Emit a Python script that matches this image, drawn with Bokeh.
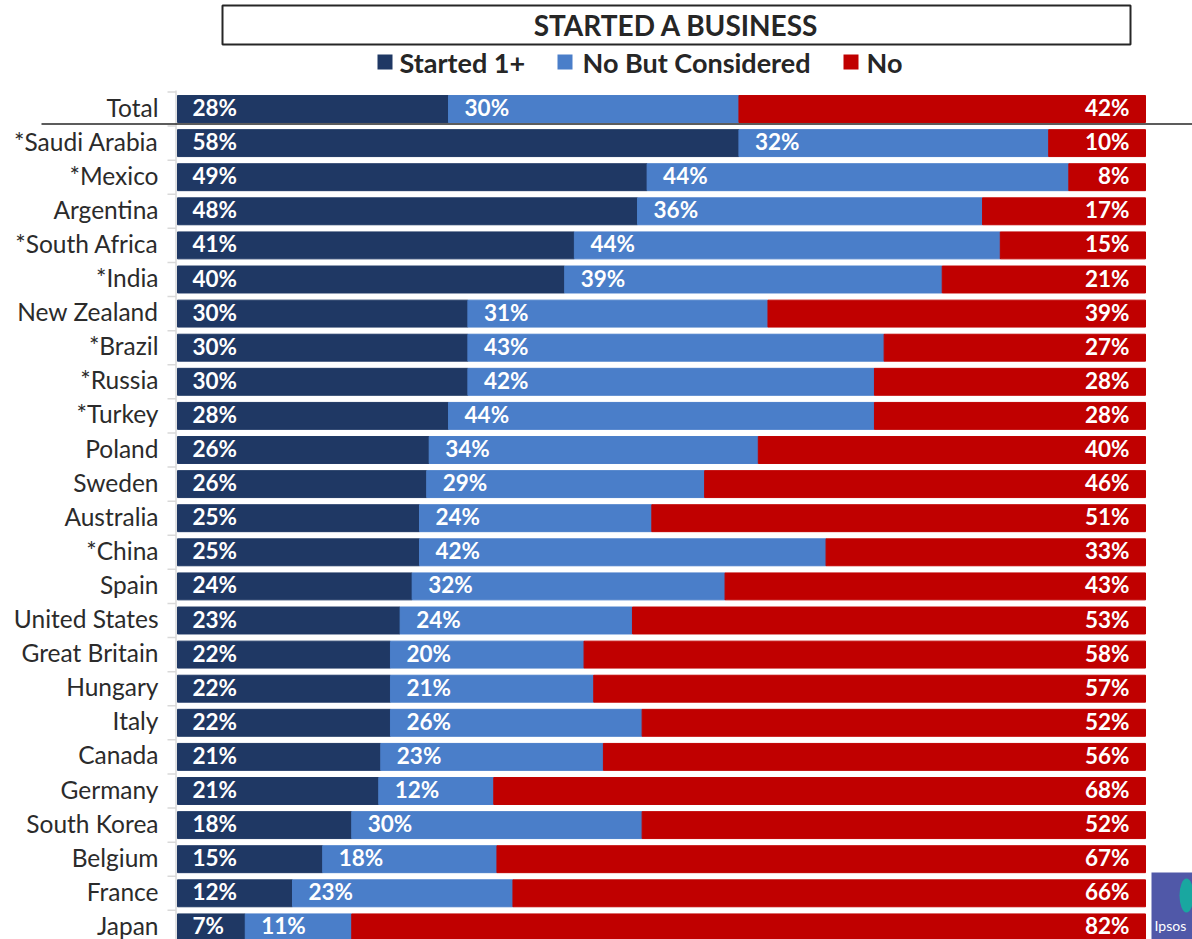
from bokeh.plotting import figure
from bokeh.models import ColumnDataSource, Range1d
from bokeh.core.properties import value
from bokeh.embed import file_html
from bokeh.resources import INLINE

# ---------------- data ----------------
countries = ["Total", "*Saudi Arabia", "*Mexico", "Argentina", "*South Africa", "*India",
             "New Zealand", "*Brazil", "*Russia", "*Turkey", "Poland", "Sweden", "Australia",
             "*China", "Spain", "United States", "Great Britain", "Hungary", "Italy", "Canada",
             "Germany", "South Korea", "Belgium", "France", "Japan"]
started = [28, 58, 49, 48, 41, 40, 30, 30, 30, 28, 26, 26, 25, 25, 24, 23, 22, 22, 22, 21, 21, 18, 15, 12, 7]
considered = [30, 32, 44, 36, 44, 39, 31, 43, 42, 44, 34, 29, 24, 42, 32, 24, 20, 21, 26, 23, 12, 30, 18, 23, 11]
no = [42, 10, 8, 17, 15, 21, 39, 27, 28, 28, 40, 46, 51, 33, 43, 53, 58, 57, 52, 56, 68, 52, 67, 66, 82]
series_names = ["Started 1+", "No But Considered", "No"]
title_text = "STARTED A BUSINESS"

# ---------------- layout helpers ----------------
W, H = 1192, 939
PX_PER_UNIT = 968.0      # pixels for a 100% bar
BAR_LEFT_PX = 177.0      # x of bar start
ROW_PX = 34.1
ROW0_PX = 108.5          # y of first row centre
X0 = -BAR_LEFT_PX / PX_PER_UNIT
X1 = X0 + W / PX_PER_UNIT
Y_END = ROW0_PX / ROW_PX
Y_START = Y_END - H / ROW_PX

def fx(px):
    return (px - BAR_LEFT_PX) / PX_PER_UNIT

def fy(py):
    return Y_END - py / ROW_PX

NAVY, BLUE, RED = "#1F3864", "#4A7EC9", "#C00000"
FONT = "Lato"

p = figure(width=W, height=H, output_backend="svg", toolbar_location=None,
           x_range=Range1d(X0, X1), y_range=Range1d(Y_START, Y_END),
           x_axis_type=None, y_axis_type=None, min_border=0,
           outline_line_color=None)
p.grid.visible = False
p.background_fill_color = "white"
p.border_fill_color = "white"

# ---------------- bars ----------------
ys = [-i for i in range(len(countries))]
tot = [a + b + c for a, b, c in zip(started, considered, no)]
s_end = [a / t for a, t in zip(started, tot)]
c_end = [(a + b) / t for a, b, t in zip(started, considered, tot)]
src = ColumnDataSource(dict(
    y=ys, country=countries,
    s0=[0.0] * len(ys), s1=s_end, c1=c_end, n1=[1.0] * len(ys),
    s_lab=[f"{v}%" for v in started],
    c_lab=[f"{v}%" for v in considered],
    n_lab=[f"{v}%" for v in no],
))
BH = 0.79
p.hbar(y="y", left="s0", right="s1", height=BH, color=NAVY, source=src)
p.hbar(y="y", left="s1", right="c1", height=BH, color=BLUE, source=src)
p.hbar(y="y", left="c1", right="n1", height=BH, color=RED, source=src)

# axis line and ticks
p.segment(x0=[fx(175.5)], y0=[fy(90)], x1=[fx(175.5)], y1=[Y_START - 1],
          line_color="#D9D9D9", line_width=1.5)
tick_y = [y + 0.5 for y in ys]
p.segment(x0=[fx(167)] * len(tick_y), y0=tick_y, x1=[fx(175.5)] * len(tick_y), y1=tick_y,
          line_color="#D9D9D9", line_width=1.5)

# separator under Total
p.segment(x0=[fx(41)], y0=[fy(123.5)], x1=[X1 + 0.1], y1=[fy(123.5)],
          line_color="#262626", line_width=1.5)

# country labels
p.text(x=fx(158), y="y", text="country", source=src, text_align="right",
       text_baseline="middle", y_offset=-2, text_font=value(FONT), text_font_size="24.5px",
       text_color="#2B2B2B")

# value labels
for xcol, tcol, xo, al in (("s0", "s_lab", 15, "left"), ("s1", "c_lab", 16, "left"),
                           ("n1", "n_lab", -16, "right")):
    p.text(x=xcol, y="y", text=tcol, source=src, x_offset=xo, y_offset=-1.5, text_align=al,
           text_baseline="middle", text_font=value(FONT), text_font_size="22.5px",
           text_font_style="bold", text_color="white")

# ---------------- title box ----------------
p.quad(left=[fx(222)], right=[fx(1130)], top=[fy(5)], bottom=[fy(44)],
       fill_color="white", line_color="#262626", line_width=2)
p.text(x=[fx(676)], y=[fy(24.5)], text=[title_text], text_align="center",
       text_baseline="middle", text_font=value(FONT), text_font_size="28px",
       text_font_style="bold", text_color="#262626")

# ---------------- legend ----------------
leg_sq_px = [384.5, 564.5, 850.5]
leg_tx_px = [399, 582, 866]
leg_y = fy(61.5)
p.scatter(x=[fx(v) for v in leg_sq_px], y=[leg_y] * 3, marker="square", size=15,
          color=[NAVY, BLUE, RED], line_color=None)
p.text(x=[fx(v) for v in leg_tx_px], y=[leg_y] * 3, text=series_names,
       text_align="left", text_baseline="middle", text_font=value(FONT),
       text_font_size="27px", text_font_style="bold", text_color="#262626")

# ---------------- logo (partial) ----------------
p.quad(left=[fx(1151)], right=[X1 + 0.1], top=[fy(872)], bottom=[Y_START - 1],
       fill_color="#5058A8", line_color=None)
p.ellipse(x=[fx(1186)], y=[fy(895)], width=[14 / PX_PER_UNIT], height=[34 / ROW_PX],
          fill_color="#19A7A0", line_color=None)
p.text(x=[fx(1154)], y=[fy(925)], text=["Ipsos"], text_align="left",
       text_baseline="middle", text_font=value(FONT), text_font_size="14px",
       text_color="white")

open("out.html", "w").write(file_html(p, INLINE))
